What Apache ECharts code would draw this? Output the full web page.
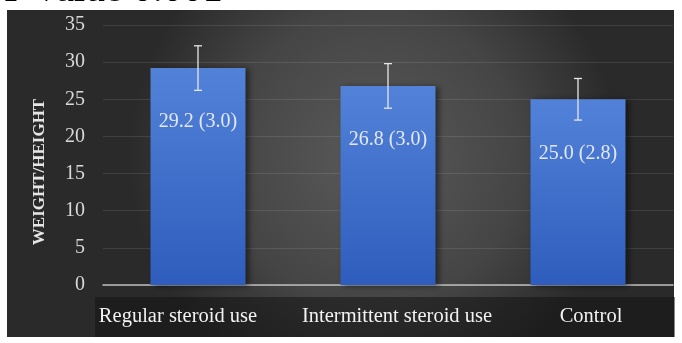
<!DOCTYPE html>
<html lang="en">
<head>
  <meta charset="UTF-8">
  <title>Weight/Height</title>
  <style>
    html, body { margin: 0; padding: 0; background: #fff; }
    #chart { width: 682px; height: 343px; }
  </style>
  <script src="https://cdn.jsdelivr.net/npm/echarts@6/dist/echarts.min.js"></script>
</head>
<body>
  <div id="chart"></div>
</body>
</html>
<script>
  // data
  var categories = ['Regular steroid use', 'Intermittent steroid use', 'Control'];
  var means = [29.2, 26.8, 25.0];
  var sds = [3.0, 3.0, 2.8];
  var yTicks = { min: 0, max: 35, interval: 5 };

  var serif = '"Liberation Serif", "Times New Roman", serif';
  // small nudges so the labels sit like the original
  var labelPad = [[0, 40, 0, 0], [0, 0, 0, 18], [0, 0, 0, 26]];

  var myChart = echarts.init(document.getElementById('chart'));

  var option = {
    animation: false,
    graphic: [
      {  // dark panel
        type: 'rect', z: -10, silent: true,
        shape: { x: 7, y: 10, width: 667, height: 327 },
        style: {
          fill: new echarts.graphic.RadialGradient(0.55, 0.45, 0.75, [
            { offset: 0, color: '#5a5a5a' },
            { offset: 0.6, color: '#454545' },
            { offset: 1, color: '#2a2a2a' }
          ])
        }
      },
      {  // strip behind the category labels
        type: 'rect', z: -9, silent: true,
        shape: { x: 95, y: 297, width: 580, height: 40 },
        style: { fill: 'rgba(15,15,15,0.5)' }
      },
      {  // title cut off at the top
        type: 'text', z: 10, silent: true,
        x: 4, y: 10,
        style: { text: 'P value 0.001', font: '40px ' + serif, fill: '#000', verticalAlign: 'bottom' }
      }
    ],
    grid: { left: 103, right: 9, top: 25, bottom: 58 },
    xAxis: {
      type: 'category',
      data: categories.map(function (c, i) {
        return { value: c, textStyle: { padding: labelPad[i] } };
      }),
      axisLine: { lineStyle: { color: '#bfbfbf', width: 1.5 } },
      axisTick: { show: false },
      axisLabel: { color: '#f2f2f2', fontFamily: serif, fontSize: 20.5, margin: 21, interval: 0 }
    },
    yAxis: {
      type: 'value',
      min: yTicks.min, max: yTicks.max, interval: yTicks.interval,
      name: 'WEIGHT/HEIGHT',
      nameLocation: 'middle',
      nameGap: 55,
      nameTextStyle: { color: '#e6e6e6', fontFamily: serif, fontSize: 17, fontWeight: 'bold', padding: [0, 34, 0, 0] },
      axisLabel: { color: '#d9d9d9', fontFamily: serif, fontSize: 20, margin: 18 },
      splitLine: { lineStyle: { color: 'rgba(255,255,255,0.1)', width: 1 } }
    },
    series: [
      {
        type: 'bar',
        data: means,
        barWidth: '50%',
        itemStyle: {
          color: new echarts.graphic.LinearGradient(0, 0, 0, 1, [
            { offset: 0, color: '#5282d8' },
            { offset: 1, color: '#2e5dbd' }
          ]),
          shadowColor: 'rgba(0,0,0,0.5)',
          shadowBlur: 6,
          shadowOffsetX: 3,
          shadowOffsetY: 1
        },
        label: {
          show: true,
          position: ['50%', 54],
          align: 'center',
          verticalAlign: 'middle',
          color: '#e3e8f2',
          fontFamily: serif,
          fontSize: 20,
          formatter: function (p) {
            return means[p.dataIndex].toFixed(1) + ' (' + sds[p.dataIndex].toFixed(1) + ')';
          }
        }
      },
      {
        type: 'custom',
        z: 5,
        data: means.map(function (m, i) { return [i, m - sds[i], m + sds[i]]; }),
        renderItem: function (params, api) {
          var lo = api.coord([api.value(0), api.value(1)]);
          var hi = api.coord([api.value(0), api.value(2)]);
          var w = 4;
          var style = { stroke: '#e6e6e6', lineWidth: 1.3 };
          return {
            type: 'group',
            children: [
              { type: 'line', shape: { x1: hi[0], y1: hi[1], x2: lo[0], y2: lo[1] }, style: style },
              { type: 'line', shape: { x1: hi[0] - w, y1: hi[1], x2: hi[0] + w, y2: hi[1] }, style: style },
              { type: 'line', shape: { x1: lo[0] - w, y1: lo[1], x2: lo[0] + w, y2: lo[1] }, style: style }
            ]
          };
        }
      }
    ]
  };

  myChart.setOption(option);
</script>
